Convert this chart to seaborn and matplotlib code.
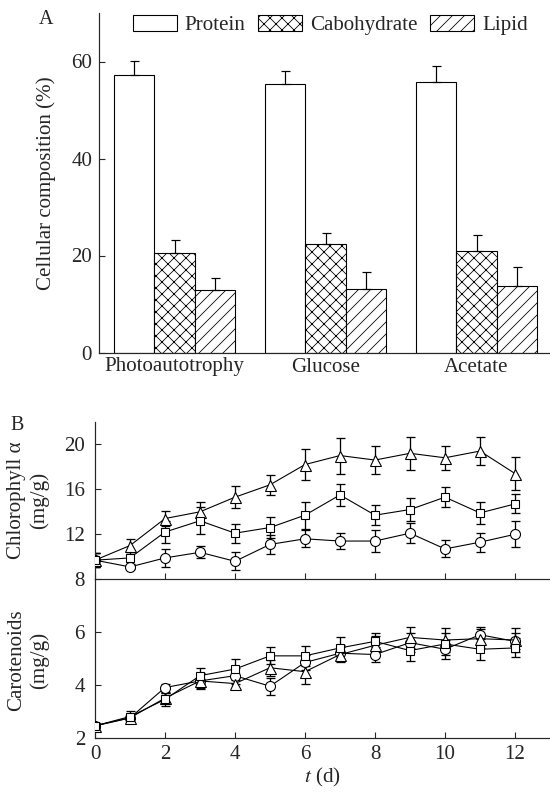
import numpy as np
import pandas as pd
import matplotlib
matplotlib.use("Agg")
import matplotlib.pyplot as plt
import seaborn as sns

# === DATA: panel A (cellular composition, %) ===
conditions = ["Photoautotrophy", "Glucose", "Acetate"]
components = ["Protein", "Cabohydrate", "Lipid"]
protein = [57.2, 55.3, 55.7]
protein_err = [3.0, 2.7, 3.3]
carb = [20.5, 22.4, 20.9]
carb_err = [2.7, 2.2, 3.3]
lipid = [12.9, 13.1, 13.8]
lipid_err = [2.5, 3.4, 3.9]

# === DATA: panel B (time course, mg/g) ===
days = [0, 1, 2, 3, 4, 5, 6, 7, 8, 9, 10, 11, 12]

circ_chl = [9.7, 9.1, 9.9, 10.4, 9.6, 11.1, 11.6, 11.4, 11.4, 12.1, 10.7, 11.3, 12.0]
circ_chl_err = [0.6, 0.2, 0.8, 0.55, 0.8, 0.85, 0.75, 0.75, 0.95, 0.9, 0.75, 0.85, 1.15]
sq_chl = [9.7, 9.9, 12.2, 13.2, 12.1, 12.6, 13.7, 15.5, 13.7, 14.2, 15.3, 13.9, 14.7]
sq_chl_err = [0.6, 0.5, 0.95, 1.2, 0.85, 0.9, 1.2, 1.0, 0.9, 1.05, 0.9, 1.0, 0.85]
tri_chl = [9.7, 11.0, 13.4, 14.0, 15.3, 16.4, 18.2, 19.0, 18.6, 19.2, 18.8, 19.4, 17.4]
tri_chl_err = [0.6, 0.6, 0.7, 0.9, 1.0, 0.9, 1.35, 1.6, 1.25, 1.45, 1.05, 1.25, 1.5]

circ_car = [2.45, 2.75, 3.9, 4.15, 4.35, 3.95, 4.85, 5.2, 5.15, 5.6, 5.35, 5.9, 5.65]
circ_car_err = [0.1, 0.15, 0.15, 0.25, 0.3, 0.33, 0.3, 0.3, 0.3, 0.35, 0.35, 0.3, 0.3]
sq_car = [2.45, 2.8, 3.45, 4.35, 4.6, 5.1, 5.1, 5.4, 5.65, 5.3, 5.55, 5.35, 5.4]
sq_car_err = [0.1, 0.2, 0.25, 0.3, 0.4, 0.32, 0.37, 0.43, 0.3, 0.38, 0.4, 0.4, 0.36]
tri_car = [2.45, 2.75, 3.5, 4.15, 4.05, 4.65, 4.5, 5.15, 5.5, 5.8, 5.7, 5.75, 5.7]
tri_car_err = [0.1, 0.15, 0.2, 0.3, 0.2, 0.3, 0.45, 0.3, 0.35, 0.4, 0.45, 0.35, 0.45]

# === STYLE ===
sns.set_style("ticks")
plt.rcParams["font.family"] = ["Liberation Serif", "DejaVu Serif"]
plt.rcParams["mathtext.fontset"] = "stix"
plt.rcParams["hatch.linewidth"] = 0.8
plt.rcParams["axes.linewidth"] = 1.2

W, H, DPI = 550, 792, 72
FS = 21
fig = plt.figure(figsize=(W / DPI, H / DPI), dpi=DPI)


def px_axes(left, top, right, bottom):
    return fig.add_axes([left / W, 1 - bottom / H, (right - left) / W, (bottom - top) / H])


# === PANEL A ===
axA = px_axes(99, 13, 549, 352.5)
df_a = pd.DataFrame({
    "condition": conditions * 3,
    "component": np.repeat(components, 3),
    "value": protein + carb + lipid,
})
sns.barplot(data=df_a, x="condition", y="value", hue="component",
            order=conditions, hue_order=components, palette=["white"] * 3,
            saturation=1, edgecolor="black", linewidth=1.1, width=0.8,
            errorbar=None, ax=axA)

bar_containers = list(axA.containers)
hatches = ["", "xx", "//"]
errs = [protein_err, carb_err, lipid_err]
for cont, hatch, err in zip(bar_containers, hatches, errs):
    xs, ys = [], []
    for p in cont:
        p.set_hatch(hatch)
        xs.append(p.get_x() + p.get_width() / 2)
        ys.append(p.get_height())
    axA.errorbar(xs, ys, yerr=[np.zeros(len(err)), err], fmt="none",
                 ecolor="black", elinewidth=1.2, capsize=4.5, capthick=1.2, zorder=1)

axA.legend(handles=[c.patches[0] for c in bar_containers], labels=components,
           loc="center", bbox_to_anchor=(0.514, 0.965), ncol=3, frameon=False,
           handlelength=2.1, handleheight=0.86, handletextpad=0.38,
           columnspacing=0.6, borderpad=0, fontsize=FS)

axA.set_xlim(-0.5, 2.48)
axA.set_ylim(0, 70)
axA.set_yticks([0, 20, 40, 60])
axA.set_xlabel("")
axA.set_ylabel("")
axA.tick_params(axis="x", length=0, pad=5, labelsize=FS)
axA.tick_params(axis="y", direction="in", length=6, width=1.1, pad=7, labelsize=FS)
sns.despine(ax=axA)

fig.text(46 / W, 1 - 19 / H, "A", ha="center", va="center", fontsize=20)
fig.text(46 / W, 1 - 183 / H, "Cellular composition (%)", rotation=90,
         ha="center", va="center", fontsize=FS)

# === PANEL B ===
axC = px_axes(95, 421.8, 550, 579.3)
axK = px_axes(95, 579.3, 550, 737.7)
axK.patch.set_visible(False)

series = [
    (axC, circ_chl, circ_chl_err, "o", 10),
    (axC, tri_chl, tri_chl_err, "^", 11),
    (axC, sq_chl, sq_chl_err, "s", 8.5),
    (axK, circ_car, circ_car_err, "o", 10),
    (axK, tri_car, tri_car_err, "^", 11),
    (axK, sq_car, sq_car_err, "s", 8.5),
]
for ax, vals, err, m, ms in series:
    ax.errorbar(days, vals, yerr=err, fmt="none", ecolor="black",
                elinewidth=1.3, capsize=4.5, capthick=1.3, zorder=2)
    sns.lineplot(x=days, y=vals, ax=ax, color="black", linewidth=1.1,
                 marker=m, markersize=ms, markerfacecolor="white",
                 markeredgecolor="black", markeredgewidth=1.1, zorder=3)

axC.set_xlim(0, 13)
axC.set_ylim(8, 22)
axC.set_yticks([8, 12, 16, 20])
axC.set_xticks([0, 2, 4, 6, 8, 10, 12])
axC.tick_params(axis="x", labelbottom=False)

axK.set_xlim(0, 13)
axK.set_ylim(2, 8)
axK.set_yticks([2, 4, 6])
axK.set_xticks([0, 2, 4, 6, 8, 10, 12])

for ax in (axC, axK):
    ax.tick_params(axis="both", direction="in", length=6, width=1.1, labelsize=FS)
    ax.tick_params(axis="y", pad=10)
    ax.tick_params(axis="x", pad=7)
    ax.set_xlabel("")
    ax.set_ylabel("")
    sns.despine(ax=ax)

fig.text(17 / W, 1 - 425 / H, "B", ha="center", va="center", fontsize=20)
fig.text(28 / W, 1 - 500 / H, "Chlorophyll α\n(mg/g)", rotation=90,
         ha="center", va="center", fontsize=FS, linespacing=1.25)
fig.text(28 / W, 1 - 660 / H, "Carotenoids\n(mg/g)", rotation=90,
         ha="center", va="center", fontsize=FS, linespacing=1.25)
fig.text(322 / W, 1 - 777 / H, "$t$ (d)", ha="center", va="center", fontsize=FS)

fig.savefig("out.png", dpi=DPI)
